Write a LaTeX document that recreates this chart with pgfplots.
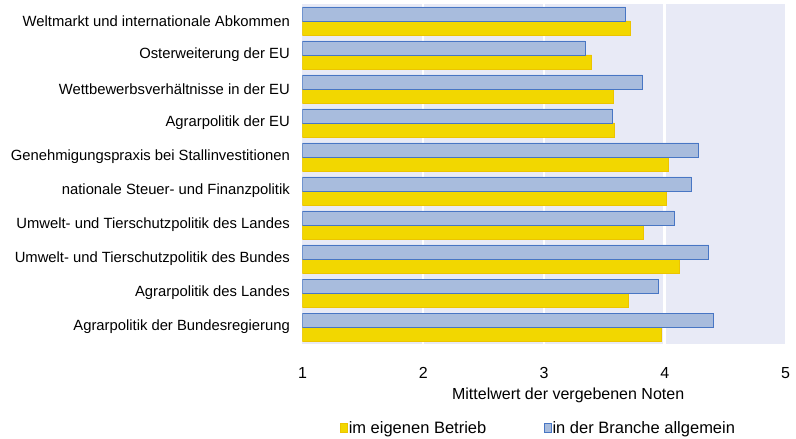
\documentclass[border=0pt]{standalone}
\usepackage{fontspec}
\setmainfont{Liberation Sans}
\usepackage{pgfplots}
\pgfplotsset{compat=1.18}

\definecolor{barY}{RGB}{242,215,0}
\definecolor{barYedge}{RGB}{236,196,0}
\definecolor{barB}{RGB}{168,188,221}
\definecolor{barBedge}{RGB}{72,118,196}
\definecolor{plotbg}{RGB}{232,234,246}

\newcommand{\lblfont}{\fontsize{14.8bp}{17bp}\selectfont}
\newcommand{\bigfont}{\fontsize{16bp}{18bp}\selectfont}
\newcommand{\legfont}{\fontsize{16.5bp}{18bp}\selectfont}

\begin{document}
\begin{tikzpicture}
\begin{axis}[
    scale only axis,
    width=483bp, height=340bp,
    xbar,
    bar width=14bp,
    xmin=1, xmax=5,
    ymin=-0.5, ymax=9.5,
    xtick={1,2,3,4,5},
    ytick={0,...,9},
    yticklabels={Agrarpolitik der Bundesregierung,
        Agrarpolitik des Landes,
        Umwelt- und Tierschutzpolitik des Bundes,
        Umwelt- und Tierschutzpolitik des Landes,
        nationale Steuer- und Finanzpolitik,
        Genehmigungspraxis bei Stallinvestitionen,
        Agrarpolitik der EU,
        Wettbewerbsverhältnisse in der EU,
        Osterweiterung der EU,
        Weltmarkt und internationale Abkommen},
    axis line style={draw=none},
    major tick length=0pt, minor tick length=0pt,
    minor xtick={2,3,4},
    xminorgrids,
    minor grid style={white, line width=2.5bp},
    axis background/.style={fill=plotbg},
    /pgf/number format/assume math mode=true,
    tick label style={font=\lblfont, text=black},
    yticklabel style={anchor=east, inner sep=0pt, xshift=-12.5bp},
    xticklabel style={font=\bigfont, anchor=north, inner sep=0pt, yshift=-23bp},
    xlabel={Mittelwert der vergebenen Noten},
    xlabel style={font=\bigfont, inner sep=0pt, anchor=north,
        at={(axis description cs:0.55,0)}, yshift=-44bp},
    legend columns=2,
    legend cell align=left,
    legend style={draw=none, fill=none, font=\legfont,
        at={(axis description cs:0.4876,-0.247)}, anchor=center,
        nodes={inner sep=1.2bp},
        /tikz/every even column/.append style={column sep=56bp}},
    legend image code/.code={
        \draw[#1] (0bp,-4.5bp) rectangle (7bp,4.5bp);},
]
% im eigenen Betrieb
\addplot[fill=barY, draw=barYedge, line width=0.8bp, bar shift=-7bp]
    coordinates {(3.976,0) (3.698,1) (4.125,2) (3.827,3) (4.017,4)
                 (4.034,5) (3.582,6) (3.571,7) (3.395,8) (3.714,9)};
% in der Branche allgemein
\addplot[fill=barB, draw=barBedge, line width=0.8bp, bar shift=7bp]
    coordinates {(4.406,0) (3.951,1) (4.365,2) (4.078,3) (4.219,4)
                 (4.280,5) (3.566,6) (3.814,7) (3.339,8) (3.676,9)};
\legend{im eigenen Betrieb, in der Branche allgemein}
\end{axis}
\pgfresetboundingbox
\useasboundingbox (-302.5bp,-95bp) rectangle (493.5bp,344bp);
\end{tikzpicture}
\end{document}
